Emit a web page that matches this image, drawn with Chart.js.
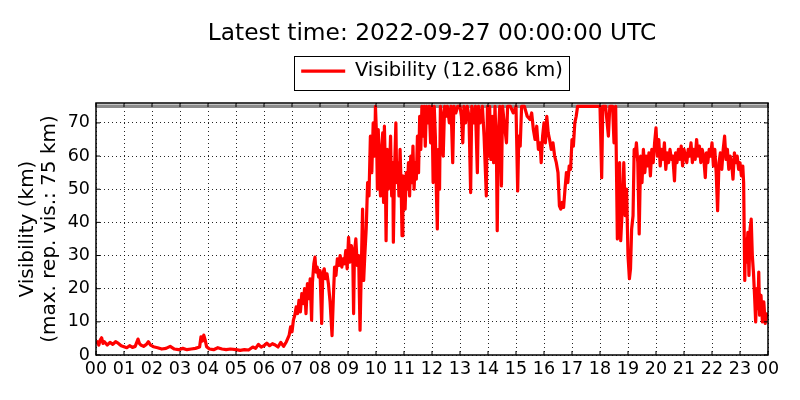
<!DOCTYPE html>
<html>
<head>
<meta charset="utf-8">
<title>Visibility</title>
<script src="https://cdn.jsdelivr.net/npm/chart.js@4/dist/chart.umd.min.js"></script>
<style>
  html, body { margin: 0; padding: 0; background: #fff; }
  #wrap { width: 800px; height: 400px; }
</style>
</head>
<body>
<div id="wrap"><canvas id="visibilityChart"></canvas></div>
<script>
// --- data (hours since 00 UTC, visibility in km) ---
const latestTime = "2022-09-27 00:00:00 UTC";
const maxReportedVis = 75;
const hourLabels = ["00","01","02","03","04","05","06","07","08","09","10","11",
                    "12","13","14","15","16","17","18","19","20","21","22","23","00"];

const hours = [
  0.00,0.05,0.10,0.15,0.20,0.25,0.30,0.40,0.50,0.60,0.70,0.80,0.90,
  1.00,1.10,1.20,1.30,1.40,1.50,1.55,1.60,1.70,1.80,1.87,1.95,
  2.05,2.20,2.35,2.50,2.65,2.80,2.95,
  3.10,3.25,3.40,3.55,3.70,3.75,3.80,3.85,3.90,3.95,
  4.05,4.20,4.35,4.50,4.65,4.80,
  5.00,5.15,5.30,5.45,5.60,5.70,5.80,5.90,
  6.00,6.10,6.20,6.30,6.40,6.50,6.60,6.70,6.80,6.90,6.95,
  7.00,7.05,7.10,7.15,7.20,7.25,7.30,7.35,7.40,7.45,7.50,7.55,7.60,7.65,7.70,7.73,7.78,7.82,7.86,7.90,7.95,
  8.00,8.06,8.10,8.15,8.20,8.25,8.30,8.36,8.43,8.48,8.52,8.57,8.62,8.67,8.72,8.78,8.82,8.87,8.92,8.97,
  9.02,9.07,9.12,9.17,9.20,9.23,9.28,9.33,9.38,9.43,9.47,9.52,9.56,9.60,9.65,9.70,9.75,9.80,9.85,9.90,9.95,9.98,
  10.02,10.05,10.08,10.12,10.16,10.20,10.24,10.27,10.30,10.33,10.36,10.40,10.44,10.48,10.52,10.56,10.60,10.62,10.66,10.71,10.74,10.78,10.82,10.86,10.90,10.93,10.96,
  11.00,11.04,11.08,11.12,11.16,11.20,11.24,11.28,11.32,11.36,11.40,11.44,11.48,11.52,11.56,11.60,11.64,11.68,11.72,11.76,11.80,11.85,11.90,11.95,
  12.00,12.04,12.08,12.12,12.16,12.19,12.23,12.27,12.30,12.35,12.40,12.45,12.50,12.55,12.62,12.68,12.74,12.78,12.85,12.92,
  13.00,13.05,13.10,13.14,13.20,13.26,13.32,13.38,13.42,13.48,13.55,13.62,13.66,13.72,13.80,13.86,13.94,13.98,
  14.02,14.06,14.10,14.15,14.20,14.25,14.30,14.33,14.37,14.42,14.48,14.52,14.58,14.66,14.70,14.80,14.90,
  15.00,15.06,15.10,15.15,15.20,15.30,15.40,15.50,15.56,15.62,15.68,15.74,15.80,15.86,15.90,15.95,
  16.00,16.05,16.10,16.15,16.20,16.26,16.32,16.38,16.44,16.50,16.55,16.60,16.65,16.70,16.75,16.80,16.85,16.90,16.95,
  17.00,17.05,17.10,17.15,17.20,17.50,17.80,
  18.00,18.06,18.10,18.20,18.30,18.35,18.45,18.50,18.56,18.62,18.66,18.70,18.74,18.80,18.85,18.90,18.95,
  19.00,19.05,19.09,19.13,19.18,19.22,19.26,19.30,19.35,19.40,19.45,19.50,19.55,19.60,19.65,19.70,19.75,19.80,19.85,19.90,19.95,
  20.00,20.05,20.10,20.15,20.20,20.25,20.30,20.35,20.40,20.45,20.50,20.55,20.60,20.66,20.70,20.75,20.80,20.85,20.90,20.95,
  21.00,21.05,21.10,21.15,21.20,21.25,21.30,21.35,21.40,21.45,21.50,21.55,21.60,21.65,21.70,21.76,21.80,21.85,21.90,21.95,
  22.00,22.05,22.10,22.15,22.20,22.25,22.30,22.35,22.40,22.45,22.50,22.55,22.60,22.65,22.70,22.75,22.80,22.85,22.90,22.95,
  23.00,23.05,23.10,23.13,23.17,23.20,23.24,23.28,23.32,23.36,23.40,23.44,23.48,23.52,23.56,23.60,23.64,23.67,23.70,23.75,23.80,23.85,23.90,23.95,24.00
];

const visibility = [
  3.5,4.0,3.0,4.5,5.2,3.5,4.0,3.0,3.8,3.2,4.0,3.5,2.8,
  2.5,2.2,2.8,2.3,2.6,4.8,3.5,3.0,2.6,3.2,4.0,3.0,
  2.5,2.2,1.8,2.0,2.6,1.8,1.6,
  2.0,1.6,1.8,2.0,2.4,5.5,4.2,6.0,4.5,2.5,
  1.8,1.6,2.2,1.8,1.6,1.8,
  1.6,1.4,1.6,1.5,2.4,2.0,3.2,2.4,
  2.8,3.6,2.8,3.4,3.0,2.4,3.8,2.6,4.0,6.0,8.5,
  7.0,10.5,12.0,14.5,12.5,16.5,13.0,18.5,15.5,20.0,12.5,21.5,17.0,23.0,10.5,22.0,27.5,29.5,25.0,26.5,23.5,
  25.5,9.5,24.5,26.0,23.0,24.5,21.5,16.0,5.8,18.0,26.5,24.0,29.0,27.0,30.0,26.5,29.0,27.5,31.5,26.0,
  35.5,28.0,33.0,30.0,12.5,31.0,35.0,27.0,30.0,7.5,24.0,44.0,22.5,30.0,38.0,52.0,48.0,66.0,55.0,70.0,60.0,75.0,
  66,50,68,57,48,62,67,46,69,58,34.5,62,50,55,66,48,58,34,55,70,52,58,48,62,50,36,54,
  48,44,55,50,58,48,60,52,63,50,58,53,66,55,72,62,75,66,75,63,75,70,75,64,
  75,52,75,66,48,38,62,50,75,72,60,75,72,75,70,75,58,75,73,75,
  75,72,64,75,70,75,72,49,75,70,75,55,75,70,75,66,48,75,
  60,75,59,72,58,75,62,37.5,66,75,51,75,70,64,75,75,73,
  75,49.5,66,63,75,75,72,71,73,68,65,69,62,64,58,66,
  70,64,72,67,65,62,64,60,58,55,45,44,46,44.5,50,55,52,57,56,
  65,63,70,72,75,75,75,
  75,53.5,75,75,66,75,75,64,75,35,37,58,34.5,45,58,42,50,
  30,23,26,38,42,62,60,64,58,36.5,60,52,62,55,60,57,61,54,62,58,64,
  68.5,60,65,57,62,59,64,56,61,58,62,59,60,52.5,61,58,62,59,63,57,
  62,60,58,62,60,64,58,62,59,65,60,63,58,62,60,53.5,61,58,62,60,
  64,57,62,55,43.5,58,61,56,62,66,59,62,56,60,58,53,61,58,60,56,
  58,54,57,52,22.5,35,28,37,24,38,41,30,25,18,10,20,14,25,12,18,10,16,9.5,12,12.686
];

// grey reference line at the maximum reportable visibility
const maxLineHours = [0, 24];
const maxLineValues = [maxReportedVis, maxReportedVis];

if (hours.length !== visibility.length) {
  console.error("hours/visibility length mismatch", hours.length, visibility.length);
}

const latestVis = visibility[visibility.length - 1];

Chart.defaults.font.family = "'DejaVu Sans', 'Liberation Sans', sans-serif";
Chart.defaults.color = "#000";

// matplotlib-like frame with inward ticks + box around the legend
const framePlugin = {
  id: "frame",
  afterDraw(chart) {
    const { ctx, chartArea: a, scales } = chart;
    ctx.save();
    ctx.setLineDash([]);
    ctx.strokeStyle = "#000";
    ctx.lineWidth = 1;
    ctx.beginPath();
    scales.x.ticks.forEach((t) => {
      const px = scales.x.getPixelForValue(t.value);
      ctx.moveTo(px, a.bottom); ctx.lineTo(px, a.bottom - 4);
      ctx.moveTo(px, a.top); ctx.lineTo(px, a.top + 4);
    });
    scales.y.ticks.forEach((t) => {
      const py = scales.y.getPixelForValue(t.value);
      ctx.moveTo(a.left, py); ctx.lineTo(a.left + 4, py);
      ctx.moveTo(a.right, py); ctx.lineTo(a.right - 4, py);
    });
    ctx.stroke();
    ctx.lineWidth = 1.5;
    ctx.strokeRect(a.left, a.top, a.right - a.left, a.bottom - a.top);

    const hb = chart.legend && chart.legend.legendHitBoxes[0];
    if (hb) {
      ctx.lineWidth = 1;
      ctx.strokeRect(Math.round(hb.left - 7) + 0.5, Math.round(hb.top - 5.5) + 0.5,
                     Math.round(hb.width + 13), Math.round(hb.height + 14.5));
    }
    ctx.restore();
  },
};

const canvas = document.getElementById("visibilityChart");
new Chart(canvas, {
  type: "line",
  data: {
    datasets: [
      {
        label: `Visibility (${latestVis.toFixed(3)} km)`,
        data: hours.map((h, i) => ({ x: h, y: visibility[i] })),
        borderColor: "#ff0000",
        backgroundColor: "#ff0000",
        borderWidth: 3.2,
        borderJoinStyle: "round",
        pointRadius: 0,
        tension: 0,
        order: 0,
      },
      {
        label: "max",
        data: maxLineHours.map((h, i) => ({ x: h, y: maxLineValues[i] })),
        borderColor: "rgb(140,140,140)",
        borderWidth: 3.5,
        pointRadius: 0,
        order: 1,
      },
    ],
  },
  options: {
    responsive: true,
    maintainAspectRatio: false,
    animation: false,
    layout: { padding: { left: 0, right: 32, top: 0, bottom: 0 } },
    plugins: {
      title: {
        display: true,
        text: `Latest time: ${latestTime}`,
        fullSize: false,
        font: { size: 23.3, weight: "normal" },
        color: "#000",
        padding: { top: 20.3, bottom: 3.15 },
      },
      legend: {
        position: "top",
        fullSize: false,
        labels: {
          font: { size: 19.5 },
          color: "#000",
          usePointStyle: true,
          pointStyle: "line",
          pointStyleWidth: 44,
          padding: 10,
          filter: (item) => item.datasetIndex === 0,
        },
      },
      tooltip: { enabled: false },
    },
    scales: {
      x: {
        type: "linear",
        min: 0,
        max: 24,
        grid: { color: "rgba(0,0,0,0.85)", lineWidth: 1, drawTicks: false },
        border: { display: false, dash: [1, 3] },
        ticks: {
          stepSize: 1,
          autoSkip: false,
          maxRotation: 0,
          padding: 4,
          font: { size: 17.5 },
          callback: (v) => hourLabels[v],
        },
        afterFit: (s) => { s.height = 45; },
      },
      xTop: {
        type: "linear",
        position: "top",
        min: 0,
        max: 24,
        grid: { display: false },
        border: { display: false },
        ticks: { display: false },
        afterFit: (s) => { s.height = 12.1; },
      },
      y: {
        min: 0,
        max: 76,
        grid: { color: "rgba(0,0,0,0.85)", lineWidth: 1, drawTicks: false },
        border: { display: false, dash: [1, 3] },
        ticks: { stepSize: 10, includeBounds: false, padding: 6, font: { size: 17.5 } },
        title: {
          display: true,
          text: ["Visibility (km)", `(max. rep. vis.: ${maxReportedVis} km)`],
          font: { size: 20, lineHeight: 1.1 },
          color: "#000",
          padding: { top: 17, bottom: 0 },
        },
        afterFit: (s) => { s.width = 96; },
      },
    },
  },
  plugins: [framePlugin],
});
</script>
</body>
</html>
